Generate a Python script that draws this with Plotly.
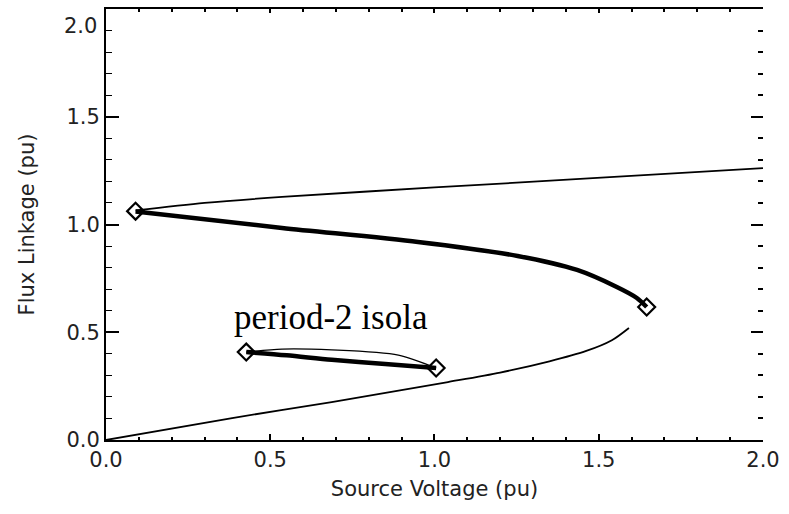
import plotly.graph_objects as go

# Upper thin branch
upper_x = [0.09, 0.3, 0.536, 1.0, 1.495, 2.0]
upper_y = [1.065, 1.1, 1.128, 1.172, 1.216, 1.262]
# Middle thick branch
mid_x = [0.09, 0.536, 0.95, 1.253, 1.434, 1.555, 1.616, 1.646]
mid_y = [1.06, 0.984, 0.919, 0.854, 0.789, 0.71, 0.659, 0.617]
# Lower thin branch
low_x = [0.0, 0.384, 0.687, 1.041, 1.2, 1.35, 1.46, 1.54, 1.592]
low_y = [0.0, 0.102, 0.176, 0.269, 0.313, 0.365, 0.412, 0.463, 0.52]
# Period-2 isola
iso_thin_x = [0.427, 0.536, 0.687, 0.89, 1.005]
iso_thin_y = [0.408, 0.422, 0.418, 0.394, 0.334]
iso_thick_x = [0.427, 0.55, 0.687, 0.85, 1.005]
iso_thick_y = [0.408, 0.393, 0.372, 0.353, 0.334]
# Bifurcation points
bif_x = [0.09, 1.646, 0.427, 1.005]
bif_y = [1.062, 0.617, 0.408, 0.334]

x_ticks = [0.0, 0.5, 1.0, 1.5, 2.0]
y_ticks = [0.0, 0.5, 1.0, 1.5, 2.0]
tick_text = ["0.0", "0.5", "1.0", "1.5", "2.0"]

fig = go.Figure()
thin = dict(color="black", width=1.8)
thick = dict(color="black", width=4.5)
sm = 0.8
fig.add_trace(go.Scatter(x=upper_x, y=upper_y, mode="lines", line=dict(thin, shape="spline", smoothing=sm)))
fig.add_trace(go.Scatter(x=mid_x, y=mid_y, mode="lines", line=dict(thick, shape="spline", smoothing=sm)))
fig.add_trace(go.Scatter(x=low_x, y=low_y, mode="lines", line=dict(thin, shape="spline", smoothing=sm)))
fig.add_trace(go.Scatter(x=iso_thin_x, y=iso_thin_y, mode="lines",
                         line=dict(color="black", width=1.3, shape="spline", smoothing=sm)))
fig.add_trace(go.Scatter(x=iso_thick_x, y=iso_thick_y, mode="lines", line=dict(thick, shape="spline", smoothing=sm)))
fig.add_trace(go.Scatter(x=bif_x, y=bif_y, mode="markers",
                         marker=dict(symbol="diamond-open", size=13, color="black",
                                     line=dict(color="black", width=2.2))))
fig.add_trace(go.Scatter(x=[0], y=[0], xaxis="x2", yaxis="y2", mode="markers",
                         marker=dict(opacity=0), hoverinfo="skip"))

fig.add_annotation(x=0.685, y=0.568, text="period-2 isola", showarrow=False,
                   font=dict(family="Liberation Serif", size=35, color="black"))

axis_font = dict(family="DejaVu Sans", size=21, color="#222")
# top y tick label sits just below the top edge, as in the reference
fig.add_annotation(xref="paper", x=0, y=y_ticks[-1], yref="y", text=tick_text[-1],
                   showarrow=False, xanchor="right", yanchor="top", xshift=-7, yshift=-3,
                   font=axis_font)
R = [0, 2.0001]
fig.update_layout(
    width=789, height=514,
    margin=dict(l=106, r=22, t=9, b=74),
    paper_bgcolor="white", plot_bgcolor="white",
    showlegend=False,
    xaxis=dict(range=R, tickvals=x_ticks, ticktext=tick_text,
               ticks="inside", ticklen=6, tickwidth=1.5, tickcolor="black",
               minor=dict(ticks="inside", ticklen=3, dtick=0.1, tickcolor="black", tickwidth=1.5),
               showline=True, linecolor="black", linewidth=1.8,
               showgrid=False, zeroline=False, tickfont=axis_font,
               title=dict(text="Source Voltage (pu)", font=axis_font, standoff=10)),
    xaxis2=dict(range=R, overlaying="x", side="top", tickvals=x_ticks,
                showticklabels=False, ticks="inside", ticklen=4, tickwidth=1.5, tickcolor="black",
                minor=dict(ticks="inside", ticklen=3, dtick=0.1, tickcolor="black", tickwidth=1.5),
                showline=True, linecolor="black", linewidth=1.8, showgrid=False, zeroline=False),
    yaxis=dict(range=R, tickvals=y_ticks[:-1], ticktext=tick_text[:-1],
               ticks="inside", ticklen=13, tickwidth=1.5, tickcolor="black",
               minor=dict(ticks="inside", ticklen=6, dtick=0.1, tickcolor="black", tickwidth=1.2),
               showline=True, linecolor="black", linewidth=1.8,
               showgrid=False, zeroline=False, tickfont=axis_font,
               title=dict(text="Flux Linkage (pu)", font=axis_font, standoff=26)),
    yaxis2=dict(range=R, overlaying="y", side="right", tickvals=y_ticks,
                showticklabels=False, ticks="inside", ticklen=12, tickwidth=1.5, tickcolor="black",
                minor=dict(ticks="inside", ticklen=5, dtick=0.1, tickcolor="black", tickwidth=1.5),
                showline=False, showgrid=False, zeroline=False),
)

fig.write_html("out.html")
